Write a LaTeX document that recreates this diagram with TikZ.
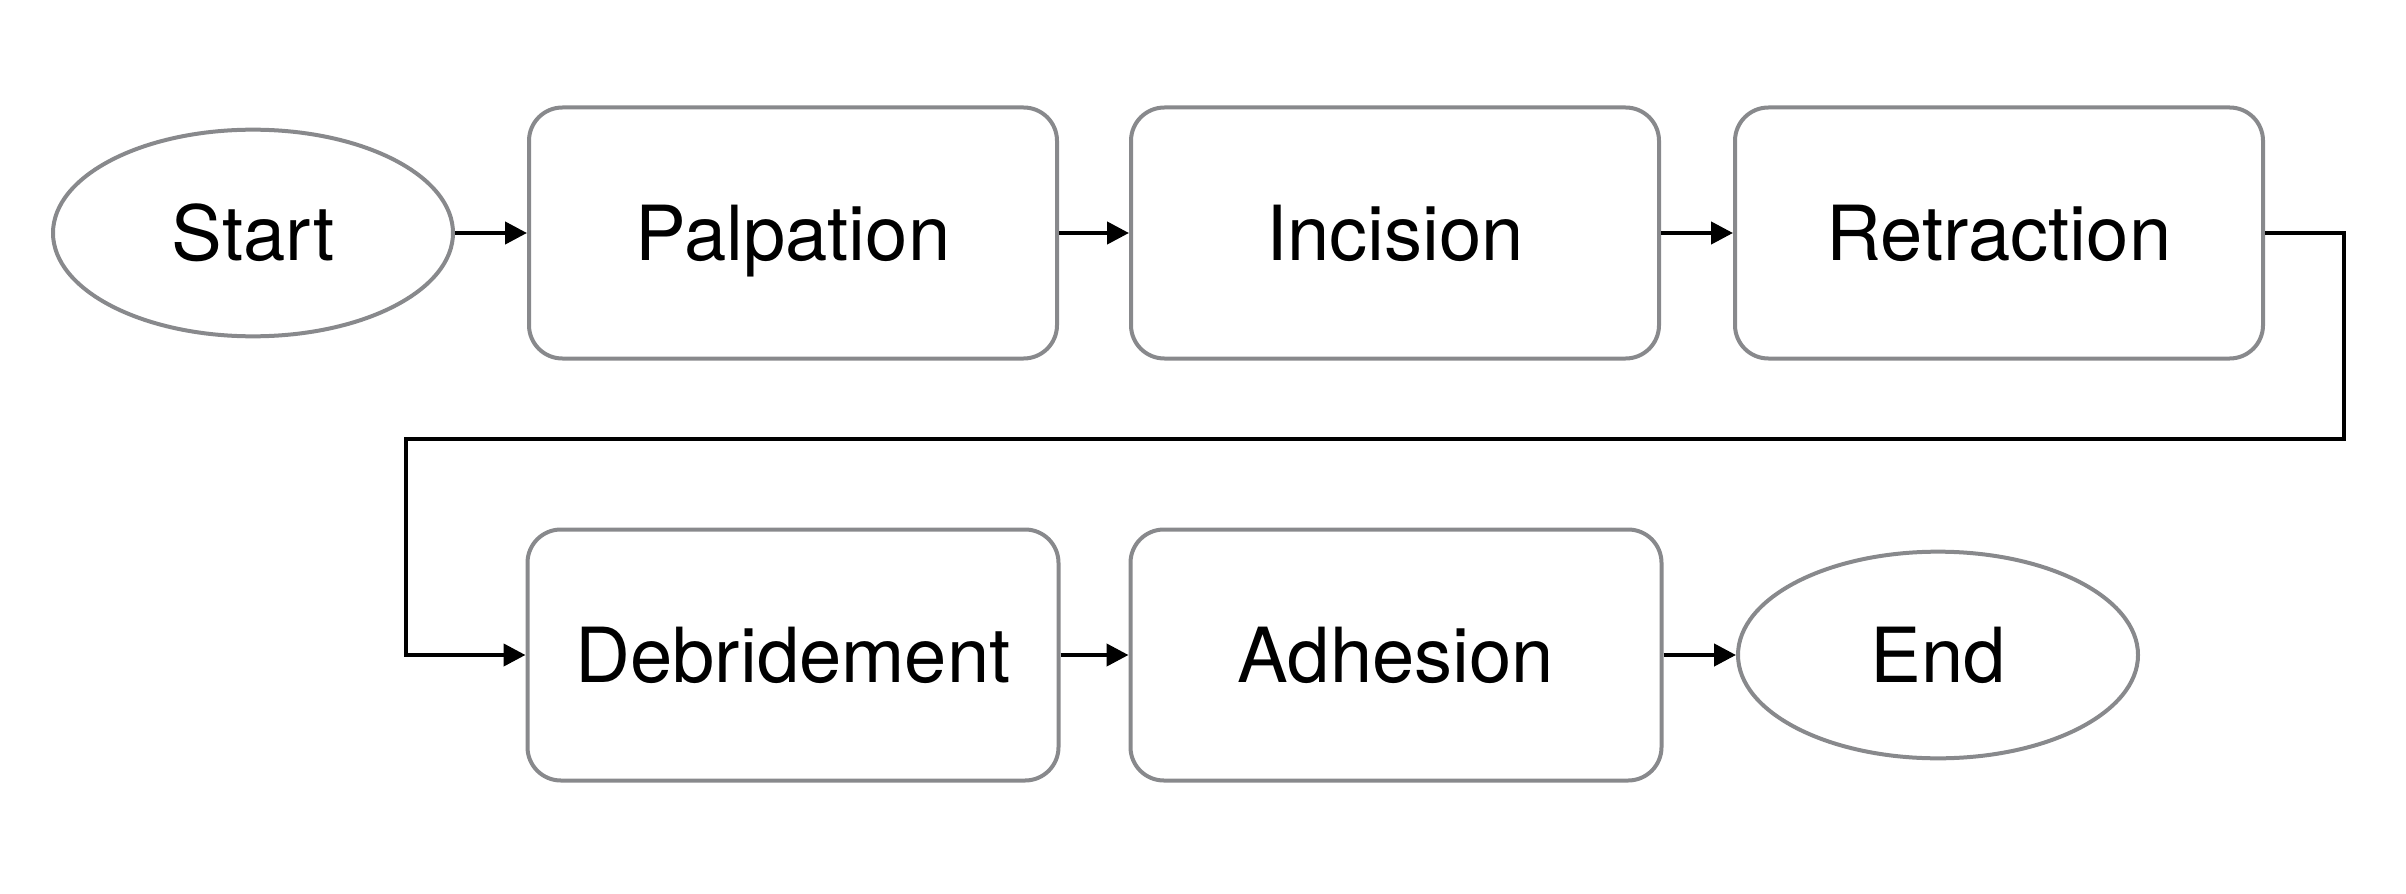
\documentclass[tikz,border=0pt]{standalone}
\usepackage{fontspec}
\setmainfont{TeX Gyre Heros}
\usetikzlibrary{shapes.geometric,arrows.meta}
\definecolor{edgegray}{HTML}{88898C}
\begin{document}
\begin{tikzpicture}[x=0.3pt,y=-0.3pt,
  lbl/.style={inner sep=0pt,text height=16.4pt,text depth=0pt,font=\fontsize{22.8pt}{27pt}\selectfont},
  box/.style={lbl,draw=edgegray,line width=1.2pt,rounded corners=10pt,minimum width=158.4pt,minimum height=75.3pt},
  oval/.style={lbl,draw=edgegray,line width=1.2pt,ellipse,minimum width=120pt,minimum height=62pt},
  arr/.style={draw=black,line width=1.3pt,-{Triangle[length=6.6pt,width=6.6pt]}}]
\useasboundingbox (0,0) rectangle (2406,894);
\node[oval] (start) at (253,233) {Start};
\node[box] (palp) at (793,233) {Palpation};
\node[box] (inc) at (1395,233) {Incision};
\node[box] (retr) at (1999,233) {Retraction};
\node[box,minimum width=159.3pt] (deb) at (793,655) {Debridement};
\node[box,minimum width=159.3pt] (adh) at (1396,655) {Adhesion};
\node[oval] (end) at (1938,655) {End};
\coordinate (c1) at (2344,439);
\coordinate (c2) at (406,655);
\draw[arr] (start) -- (palp);
\draw[arr] (palp) -- (inc);
\draw[arr] (inc) -- (retr);
\draw[arr] (retr.east) -| (c1) -| (c2) -- (deb.west);
\draw[arr] (deb) -- (adh);
\draw[arr] (adh) -- (end);
\end{tikzpicture}
\end{document}
